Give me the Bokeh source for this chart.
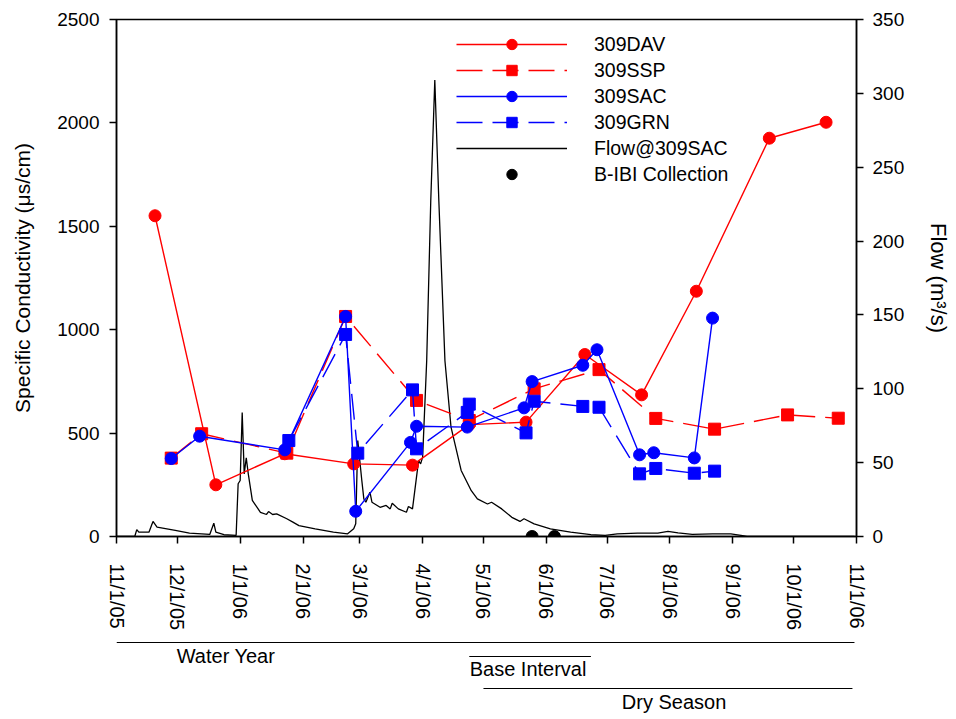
from datetime import datetime
import pandas as pd
from bokeh.plotting import figure
from bokeh.models import Range1d, LinearAxis, FixedTicker, Legend, LegendItem, Label
from bokeh.layouts import column
from bokeh.embed import file_html
from bokeh.resources import INLINE

FONT = "Liberation Sans"

# ---------------- data ----------------
month_ticks = ["2005-11-01", "2005-12-01", "2006-01-01", "2006-02-01", "2006-03-01",
               "2006-04-01", "2006-05-01", "2006-06-01", "2006-07-01", "2006-08-01",
               "2006-09-01", "2006-10-01", "2006-11-01"]
month_labels = ["11/1/05", "12/1/05", "1/1/06", "2/1/06", "3/1/06", "4/1/06", "5/1/06",
                "6/1/06", "7/1/06", "8/1/06", "9/1/06", "10/1/06", "11/1/06"]

dav_dates = ["2005-11-20", "2005-12-20", "2006-01-23", "2006-02-26", "2006-03-27", "2006-04-24",
             "2006-05-22", "2006-06-20", "2006-07-18", "2006-08-14", "2006-09-19", "2006-10-17"]
dav_values = [1551, 250, 400, 351, 345, 541, 553, 880, 685, 1186, 1926, 2003]

ssp_dates = ["2005-11-28", "2005-12-13", "2006-01-24", "2006-02-22", "2006-03-29", "2006-04-24",
             "2006-05-26", "2006-06-27", "2006-07-25", "2006-08-23", "2006-09-28", "2006-10-23"]
ssp_values = [379, 497, 403, 1064, 658, 561, 714, 807, 571, 519, 588, 572]

sac_dates = ["2005-11-28", "2005-12-12", "2006-01-23", "2006-02-22", "2006-02-27", "2006-03-26",
             "2006-03-29", "2006-04-23", "2006-05-21", "2006-05-25", "2006-06-19", "2006-06-26",
             "2006-07-17", "2006-07-24", "2006-08-13", "2006-08-22"]
sac_values = [377, 485, 419, 1064, 122, 455, 533, 529, 622, 749, 828, 903, 395, 405, 380, 1056]

grn_dates = ["2006-01-25", "2006-02-22", "2006-02-28", "2006-03-27", "2006-03-29", "2006-04-23",
             "2006-04-24", "2006-05-22", "2006-05-26", "2006-06-19", "2006-06-27", "2006-07-17",
             "2006-07-25", "2006-08-13", "2006-08-23"]
grn_values = [464, 977, 403, 709, 424, 600, 640, 501, 654, 629, 625, 303, 329, 306, 316]

flow_dates = ["2005-11-01", "2005-11-10", "2005-11-11", "2005-11-12", "2005-11-17", "2005-11-19",
              "2005-11-21", "2005-11-30", "2005-12-07", "2005-12-17", "2005-12-19", "2005-12-20",
              "2005-12-24", "2005-12-30", "2005-12-31", "2006-01-01", "2006-01-02", "2006-01-03",
              "2006-01-04", "2006-01-05", "2006-01-07", "2006-01-11", "2006-01-14", "2006-01-15",
              "2006-01-17", "2006-01-19", "2006-01-24", "2006-01-27", "2006-01-30", "2006-02-07",
              "2006-02-16", "2006-02-23", "2006-02-26", "2006-02-27", "2006-02-28", "2006-03-02",
              "2006-03-03", "2006-03-04", "2006-03-06", "2006-03-07", "2006-03-11", "2006-03-14",
              "2006-03-16", "2006-03-17", "2006-03-20", "2006-03-24", "2006-03-25", "2006-03-27",
              "2006-03-30", "2006-03-31", "2006-04-01", "2006-04-03", "2006-04-05", "2006-04-07",
              "2006-04-09", "2006-04-12", "2006-04-15", "2006-04-20", "2006-04-25", "2006-04-28",
              "2006-05-03", "2006-05-05", "2006-05-10", "2006-05-15", "2006-05-19", "2006-05-21",
              "2006-05-26", "2006-06-03", "2006-06-13", "2006-06-23", "2006-06-30", "2006-07-06",
              "2006-07-16", "2006-07-26", "2006-07-31", "2006-08-05", "2006-08-12", "2006-08-22",
              "2006-08-31", "2006-09-05", "2006-09-08", "2006-10-31"]
flow_values = [0, 0, 4.7, 2.9, 2.9, 10.2,
               6.3, 4.1, 2.3, 1.4, 9.0, 2.9,
               1.2, 0.7, 35.7, 37.9, 84, 42.4,
               53.3, 42.4, 24.4, 16.4, 14.9, 16.9,
               14.9, 15.3, 12.0, 9.7, 7.4, 5.2,
               2.9, 1.8, 5.2, 8.6, 65, 37.9,
               25.5, 23.2, 30, 23.2, 19.8, 21,
               18.7, 22.5, 18.7, 16.4, 20.3, 18.7,
               51.4, 49.2, 53.7, 119, 227, 309,
               227, 119, 74, 44.7, 31, 25.5,
               22, 23.2, 18.7, 13, 10.2, 12,
               8.6, 5.2, 2.9, 1.2, 0.7, 1.8,
               2.3, 2.3, 3.4, 2.5, 1.4, 1.8,
               1.8, 0.7, 0, 0]

bibi_dates = ["2006-05-25", "2006-06-05"]
bibi_values = [0, 0]

period_names = ["Water Year", "Base Interval", "Dry Season"]
period_starts = ["2005-11-01", "2006-04-24", "2006-05-01"]
period_ends = ["2006-10-31", "2006-06-23", "2006-10-30"]
period_label_dates = ["2005-12-25", "2006-05-23", "2006-08-03"]


def ts(lst):
    return pd.to_datetime(lst)


def ms(d):
    return int(pd.Timestamp(d).value // 10**6)


RED = "#FF0000"
BLUE = "#0000FF"
DASH = "26 10"

x_range = Range1d(datetime(2005, 11, 1), datetime(2006, 11, 1))

p = figure(width=956, height=638, x_axis_type="datetime", x_range=x_range,
           y_range=Range1d(0, 2500), output_backend="svg", toolbar_location=None,
           min_border_left=116, min_border_right=100, min_border_top=19, min_border_bottom=102)
p.extra_y_ranges = {"flow": Range1d(0, 350)}
p.xgrid.visible = False
p.ygrid.visible = False
p.outline_line_color = "black"
p.outline_line_width = 1.5
p.outline_line_alpha = 1

right_axis = LinearAxis(y_range_name="flow", axis_label="Flow (m³/s)")
p.add_layout(right_axis, "right")

ticks_ms = [ms(d) for d in month_ticks]
p.xaxis.ticker = FixedTicker(ticks=ticks_ms)
p.xaxis.major_label_overrides = dict(zip(ticks_ms, month_labels))
p.xaxis.major_label_orientation = "vertical"

p.yaxis[0].ticker = FixedTicker(ticks=[0, 500, 1000, 1500, 2000, 2500])
p.yaxis[0].axis_label = "Specific Conductivity (μs/cm)"
right_axis.ticker = FixedTicker(ticks=[0, 50, 100, 150, 200, 250, 300, 350])

for ax in p.axis:
    ax.axis_line_color = "black"
    ax.axis_line_width = 1.5
    ax.major_tick_line_color = "black"
    ax.major_tick_line_width = 1.5
    ax.major_tick_out = 7
    ax.major_tick_in = 0
    ax.minor_tick_line_color = None
    ax.major_label_text_font = FONT
    ax.major_label_text_font_size = "19px"
    ax.major_label_text_color = "black"
    ax.axis_label_text_font = FONT
    ax.axis_label_text_font_size = "22px"
    ax.axis_label_text_font_style = "normal"
    ax.axis_label_text_color = "black"

p.xaxis.major_label_standoff = 20
p.xaxis.major_label_text_font_size = "20px"
p.yaxis[0].major_label_standoff = 10
p.yaxis[0].axis_label_standoff = 20
p.yaxis[0].axis_label_text_font_size = "21px"
right_axis.major_label_standoff = 9
right_axis.axis_label_standoff = 19

# flow line (right axis)
r_flow = p.line(ts(flow_dates), flow_values, y_range_name="flow", color="black", line_width=1.3)

# series
r_dav_l = p.line(ts(dav_dates), dav_values, color=RED, line_width=1.4)
r_dav_m = p.scatter(ts(dav_dates), dav_values, marker="circle", size=12, color=RED)
r_ssp_l = p.line(ts(ssp_dates), ssp_values, color=RED, line_width=1.4, line_dash=DASH)
r_ssp_m = p.scatter(ts(ssp_dates), ssp_values, marker="square", size=12, color=RED)
r_grn_l = p.line(ts(grn_dates), grn_values, color=BLUE, line_width=1.4, line_dash=DASH)
r_grn_m = p.scatter(ts(grn_dates), grn_values, marker="square", size=12, color=BLUE)
r_sac_l = p.line(ts(sac_dates), sac_values, color=BLUE, line_width=1.4)
r_sac_m = p.scatter(ts(sac_dates), sac_values, marker="circle", size=12, color=BLUE)
r_bibi = p.scatter(ts(bibi_dates), bibi_values, marker="circle", size=12, color="black")

legend = Legend(items=[
    LegendItem(label="309DAV", renderers=[r_dav_l, r_dav_m]),
    LegendItem(label="309SSP", renderers=[r_ssp_l, r_ssp_m]),
    LegendItem(label="309SAC", renderers=[r_sac_l, r_sac_m]),
    LegendItem(label="309GRN", renderers=[r_grn_l, r_grn_m]),
    LegendItem(label="Flow@309SAC", renderers=[r_flow]),
    LegendItem(label="B-IBI Collection", renderers=[r_bibi]),
], location=(340, 349))
legend.glyph_width = 111
legend.glyph_height = 26
legend.label_height = 26
legend.spacing = 0
legend.padding = 0
legend.margin = 0
legend.label_standoff = 27
legend.border_line_alpha = 0
legend.background_fill_alpha = 0
legend.label_text_font = FONT
legend.label_text_font_size = "19.5px"
legend.label_text_color = "black"
legend.label_text_baseline = "middle"
p.add_layout(legend, "center")

# ---------------- period bars below the axis ----------------
p2 = figure(width=956, height=81, x_range=x_range, y_range=Range1d(81, 0),
            x_axis_type="datetime", output_backend="svg", toolbar_location=None,
            min_border_left=116, min_border_right=100, min_border_top=0, min_border_bottom=0,
            x_axis_location=None, y_axis_location=None, outline_line_color=None)
p2.grid.visible = False

line_y = [4, 18, 50]
text_y = [17, 30, 63]
p2.segment(x0=ts(period_starts), y0=line_y, x1=ts(period_ends), y1=line_y,
           color="black", line_width=1.2)
for name, d, ty in zip(period_names, period_label_dates, text_y):
    p2.add_layout(Label(x=ms(d), y=ty, text=name, text_align="center", text_baseline="middle",
                        text_font=FONT, text_font_size="20px", text_color="black"))

layout = column(p, p2, spacing=0)
open("out.html", "w").write(file_html(layout, INLINE))
